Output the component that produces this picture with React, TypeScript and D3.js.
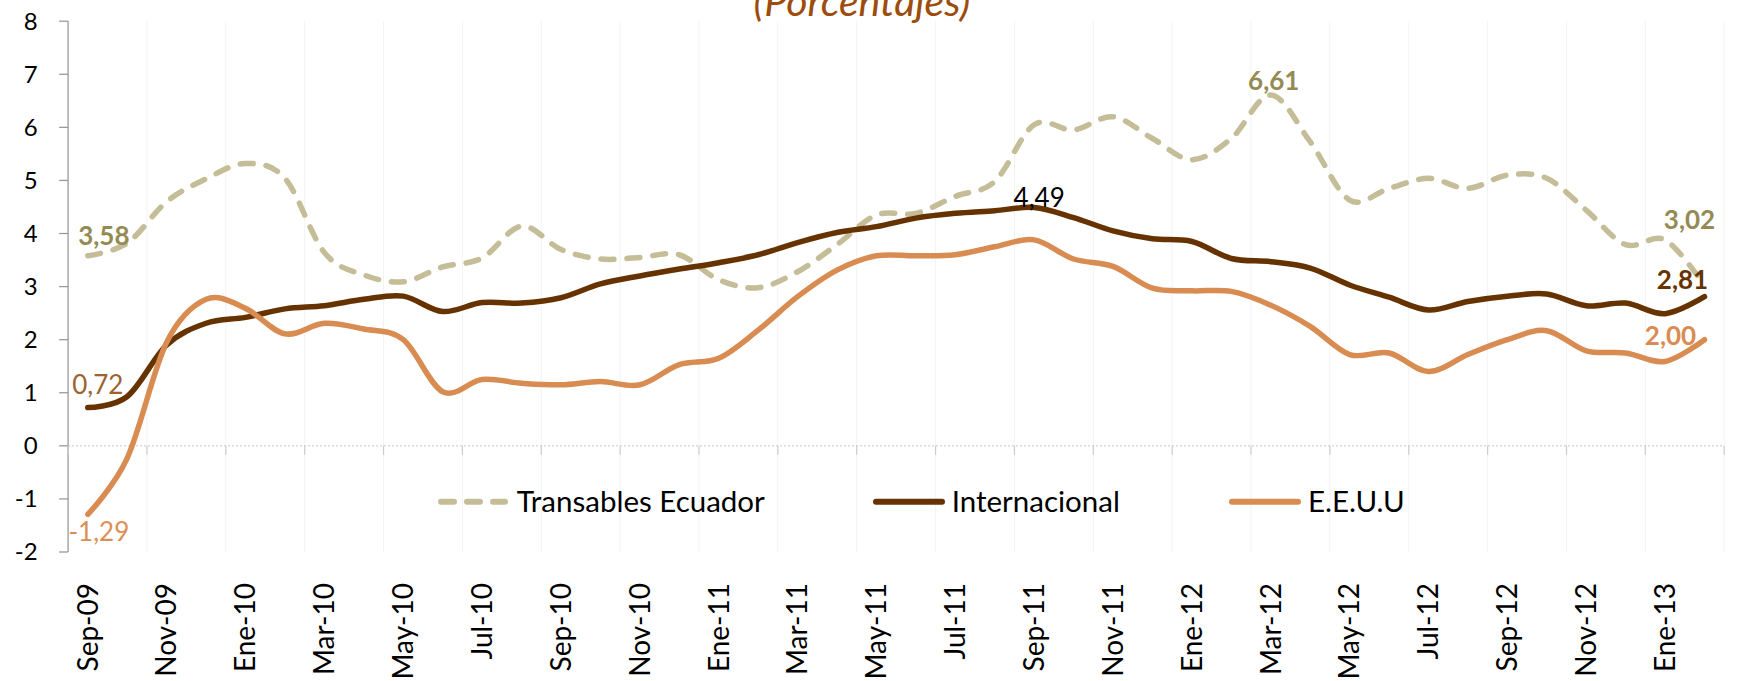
import React from 'react';
import * as d3 from 'd3';

const W = 1739;
const H = 681;

const categories = [
  'Sep-09','Oct-09','Nov-09','Dic-09','Ene-10','Feb-10','Mar-10','Abr-10','May-10','Jun-10',
  'Jul-10','Ago-10','Sep-10','Oct-10','Nov-10','Dic-10','Ene-11','Feb-11','Mar-11','Abr-11',
  'May-11','Jun-11','Jul-11','Ago-11','Sep-11','Oct-11','Nov-11','Dic-11','Ene-12','Feb-12',
  'Mar-12','Abr-12','May-12','Jun-12','Jul-12','Ago-12','Sep-12','Oct-12','Nov-12','Dic-12',
  'Ene-13','Feb-13'
];

const transables = [
  3.58, 3.82, 4.60, 5.03, 5.32, 5.04, 3.64, 3.22, 3.09, 3.37,
  3.54, 4.14, 3.70, 3.52, 3.55, 3.60, 3.13, 2.98, 3.28, 3.79,
  4.35, 4.38, 4.70, 4.98, 6.05, 5.95, 6.20, 5.79, 5.39, 5.79,
  6.61, 5.73, 4.63, 4.85, 5.04, 4.85, 5.10, 5.04, 4.44, 3.79,
  3.88, 3.02
];

const internacional = [
  0.72, 0.93, 1.90, 2.31, 2.42, 2.58, 2.64, 2.76, 2.82, 2.53,
  2.70, 2.69, 2.79, 3.05, 3.20, 3.33, 3.45, 3.60, 3.83, 4.02,
  4.13, 4.29, 4.38, 4.43, 4.49, 4.30, 4.05, 3.90, 3.85, 3.53,
  3.47, 3.35, 3.03, 2.80, 2.56, 2.72, 2.82, 2.86, 2.64, 2.69,
  2.49, 2.81
];

const eeuu = [
  -1.29, -0.23, 1.95, 2.76, 2.59, 2.11, 2.31, 2.20, 2.00, 1.02,
  1.25, 1.18, 1.15, 1.21, 1.15, 1.53, 1.65, 2.18, 2.81, 3.31,
  3.58, 3.58, 3.60, 3.75, 3.88, 3.52, 3.38, 2.97, 2.92, 2.91,
  2.65, 2.25, 1.72, 1.75, 1.40, 1.72, 2.00, 2.17, 1.79, 1.75,
  1.59, 2.00
];

const yTicks = [8, 7, 6, 5, 4, 3, 2, 1, 0, -1, -2];

const seriesNames = ['Transables Ecuador', 'Internacional', 'E.E.U.U'];
const titleText = '(Porcentajes)';

// point labels: [seriesIndex, categoryIndex, text]
const pointLabels: [number, number, string][] = [
  [0, 0, '3,58'],
  [1, 0, '0,72'],
  [2, 0, '-1,29'],
  [1, 24, '4,49'],
  [0, 30, '6,61'],
  [0, 41, '3,02'],
  [1, 41, '2,81'],
  [2, 41, '2,00'],
];

const COL_TRANS = '#C4BD97';
const COL_INT = '#663300';
const COL_US = '#D98C52';
const FONT = 'Lato, "Open Sans", sans-serif';

const labelStyle: Record<string, { dx: number; dy: number; fill: string; weight: number }> = {
  '3,58': { dx: 16, dy: -11, fill: '#948A54', weight: 700 },
  '0,72': { dx: 10, dy: -14, fill: '#9C6230', weight: 400 },
  '-1,29': { dx: 11, dy: 27, fill: '#DB8F55', weight: 400 },
  '4,49': { dx: 5, dy: -1, fill: '#000000', weight: 400 },
  '6,61': { dx: 3, dy: -5, fill: '#948A54', weight: 700 },
  '3,02': { dx: -15, dy: -57, fill: '#948A54', weight: 700 },
  '2,81': { dx: -22, dy: -8, fill: '#663300', weight: 700 },
  '2,00': { dx: -34, dy: 5, fill: '#D98C52', weight: 700 },
};

export default function App() {
  const left = 68.1;
  const right = 1724.2;
  const x = d3.scaleBand<string>().domain(categories).range([left, right]).padding(0);
  const bw = x.bandwidth();
  const cx = (i: number) => (x(categories[i]) as number) + bw / 2;
  const y = d3.scaleLinear().domain([-2, 8]).range([552, 21.2]);

  const mkLine = d3
    .line<number>()
    .x((_, i) => cx(i))
    .y((d) => y(d))
    .curve(d3.curveCardinal.tension(0));

  const series = [transables, internacional, eeuu];

  const boundaries = d3.range(0, categories.length + 1, 2).map((i) => left + i * bw);

  const legendY = 501.7;
  const legendItems = [
    { name: seriesNames[0], x1: 441, x2: 505, tx: 516.7, color: COL_TRANS, dash: '13 13' },
    { name: seriesNames[1], x1: 876, x2: 942, tx: 951.7, color: COL_INT, dash: undefined },
    { name: seriesNames[2], x1: 1232, x2: 1298, tx: 1308, color: COL_US, dash: undefined },
  ];

  return (
    <svg
      width={W}
      height={H}
      style={{ position: 'absolute', left: 0, top: 0, background: '#ffffff' }}
      fontFamily={FONT}
    >
      <rect x={0} y={0} width={W} height={H} fill="#ffffff" />
      {/* faint vertical gridlines */}
      {boundaries.slice(1).map((bx, k) => (
        <line key={'g' + k} x1={bx} x2={bx} y1={y(8)} y2={y(-2)} stroke="#f3f3f3" strokeWidth={1} />
      ))}
      {/* title (cropped at top edge as in the reference) */}
      <text
        x={862}
        y={16}
        textAnchor="middle"
        fontSize={41}
        fontStyle="italic"
        fill="#9C4C0C"
      >
        {titleText}
      </text>
      {/* y axis */}
      <line x1={left} x2={left} y1={y(8)} y2={y(-2)} stroke="#9a9a9a" strokeWidth={1.3} />
      {yTicks.map((t) => (
        <g key={'yt' + t}>
          <line x1={left - 9} x2={left} y1={y(t)} y2={y(t)} stroke="#9a9a9a" strokeWidth={1.3} />
          <text x={left - 30.5} y={y(t)} dy="0.35em" textAnchor="end" fontSize={24} fill="#000">
            {t}
          </text>
        </g>
      ))}
      {/* x axis at zero */}
      <line
        x1={left}
        x2={right}
        y1={y(0)}
        y2={y(0)}
        stroke="#c4c4c4"
        strokeWidth={1}
        strokeDasharray="2 2"
      />
      {boundaries.map((bx, k) => (
        <line key={'xt' + k} x1={bx} x2={bx} y1={y(0)} y2={y(0) + 9} stroke="#cccccc" strokeWidth={1.2} />
      ))}
      {/* x labels */}
      {categories.map((c, i) =>
        i % 2 === 0 ? (
          <text
            key={'xl' + i}
            transform={`translate(${cx(i)},${583}) rotate(-90)`}
            textAnchor="end"
            dy="0.35em"
            fontSize={28}
            fill="#000"
          >
            {c}
          </text>
        ) : null
      )}
      {/* series */}
      <path
        d={mkLine(transables) || ''}
        fill="none"
        stroke={COL_TRANS}
        strokeWidth={5.5}
        strokeDasharray="13 13"
        strokeLinecap="round"
        strokeLinejoin="round"
      />
      <path
        d={mkLine(internacional) || ''}
        fill="none"
        stroke={COL_INT}
        strokeWidth={5.5}
        strokeLinecap="round"
        strokeLinejoin="round"
      />
      <path
        d={mkLine(eeuu) || ''}
        fill="none"
        stroke={COL_US}
        strokeWidth={5.5}
        strokeLinecap="round"
        strokeLinejoin="round"
      />
      {/* point labels */}
      {pointLabels.map(([s, i, txt]) => {
        const st = labelStyle[txt];
        return (
          <text
            key={'pl' + txt}
            x={cx(i) + st.dx}
            y={y(series[s][i]) + st.dy}
            textAnchor="middle"
            fontSize={26}
            fontWeight={st.weight}
            fill={st.fill}
          >
            {txt}
          </text>
        );
      })}
      {/* legend */}
      {legendItems.map((it) => (
        <g key={'lg' + it.name}>
          <line
            x1={it.x1}
            x2={it.x2}
            y1={legendY}
            y2={legendY}
            stroke={it.color}
            strokeWidth={6}
            strokeLinecap="round"
            strokeDasharray={it.dash}
          />
          <text x={it.tx} y={legendY + 10} fontSize={29.5} fill="#000">
            {it.name}
          </text>
        </g>
      ))}
    </svg>
  );
}
